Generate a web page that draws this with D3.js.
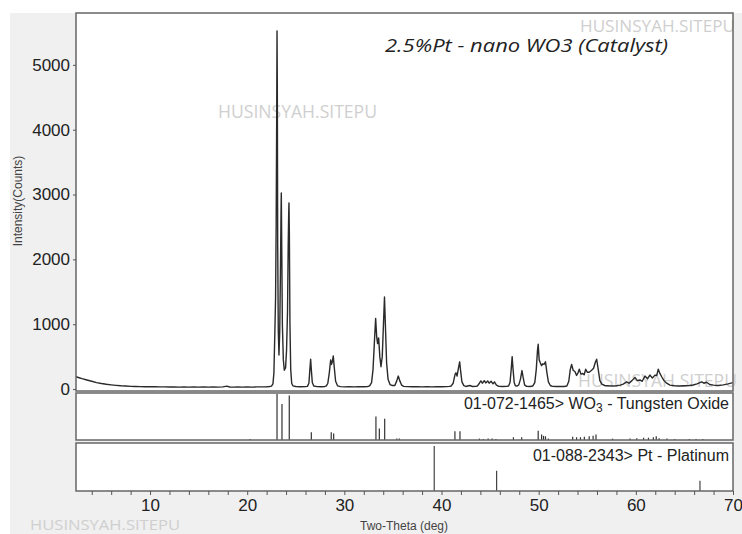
<!DOCTYPE html>
<head>
  <meta charset="utf-8">
  <style>
    body { margin: 0; background: #fff; }
    .num text { font: 17px "Liberation Sans", Arial, sans-serif; fill: #222; }
    .lab { font: 12px "Liberation Sans", Arial, sans-serif; fill: #444; }
    .ref { font: 16px "Liberation Sans", Arial, sans-serif; fill: #222; }
    .wm { font-family: "Open Sans", sans-serif; fill: #cfcfcf; }
  </style>
</head>
<body>
  <svg width="742" height="534"></svg>
  <script src="https://d3js.org/d3.v7.min.js"></script>
  <script>

  // measured scan: [two-theta (deg), intensity (counts)]
  var scan = [
    [2.38,190],[2.7,175],[3.0,160],[3.5,140],[4.0,120],[4.5,100],[5.0,85],[5.5,74],[6.0,65],[6.5,57],
    [7.0,50],[7.5,46],[8.0,42],[8.5,40],[9.0,38],[9.5,36],[10.0,35],[10.5,37],[11.0,33],[11.5,34],
    [12.0,31],[12.5,33],[13.0,30],[13.5,32],[14.0,29],[14.5,31],[15.0,30],[15.5,32],[16.0,29],[16.5,31],
    [17.0,30],[17.5,33],[17.9,45],[18.2,32],[18.6,30],[19.0,31],[19.5,29],[20.0,32],[20.5,30],[21.0,33],
    [21.5,34],[22.0,36],[22.3,40],[22.5,45],[22.65,80],[22.75,250],[22.85,900],[22.92,1400],[22.98,2500],
    [23.03,4000],[23.07,5525],[23.10,4700],[23.14,2200],[23.2,900],[23.27,525],[23.35,900],[23.42,1800],
    [23.48,2700],[23.51,3025],[23.55,2300],[23.62,1000],[23.72,450],[23.82,290],[23.95,330],[24.05,600],
    [24.15,1200],[24.22,2200],[24.27,2700],[24.30,2870],[24.34,2400],[24.40,1000],[24.48,300],[24.58,90],
    [24.7,50],[25.0,40],[25.5,36],[26.0,38],[26.2,42],[26.35,90],[26.45,300],[26.53,460],[26.6,300],
    [26.7,100],[26.85,48],[27.2,38],[27.6,35],[28.0,40],[28.15,50],[28.3,90],[28.45,250],[28.59,450],
    [28.68,380],[28.76,420],[28.86,510],[28.95,350],[29.1,120],[29.3,50],[29.6,38],[30.0,34],[30.5,36],
    [31.0,33],[31.5,35],[32.0,36],[32.4,40],[32.6,48],[32.8,100],[32.95,300],[33.1,750],[33.22,1090],
    [33.33,800],[33.42,700],[33.53,790],[33.65,500],[33.77,345],[33.9,500],[34.0,900],[34.13,1420],
    [34.22,1000],[34.35,400],[34.5,150],[34.7,70],[34.9,55],[35.2,55],[35.4,130],[35.55,200],[35.7,130],
    [35.9,60],[36.1,42],[36.5,38],[37.0,35],[37.5,37],[38.0,34],[38.5,36],[39.0,34],[39.5,37],[40.0,35],
    [40.5,38],[40.8,42],[41.0,48],[41.2,90],[41.4,230],[41.49,250],[41.6,200],[41.75,330],[41.87,420],
    [41.95,300],[42.1,110],[42.3,52],[42.5,40],[42.9,55],[43.2,40],[43.5,42],[43.7,48],[43.9,90],
    [44.05,125],[44.2,90],[44.4,130],[44.55,95],[44.75,125],[44.9,90],[45.1,120],[45.3,80],[45.45,110],
    [45.65,60],[45.9,42],[46.3,40],[46.7,42],[46.9,48],[47.05,100],[47.17,300],[47.27,500],[47.35,330],
    [47.48,100],[47.6,52],[47.8,48],[47.95,65],[48.12,150],[48.28,285],[48.4,180],[48.55,65],[48.75,42],
    [49.1,40],[49.4,48],[49.6,100],[49.75,300],[49.88,600],[49.95,690],[50.05,450],[50.18,400],[50.3,360],
    [50.42,390],[50.55,380],[50.7,420],[50.85,250],[51.0,110],[51.2,55],[51.4,42],[51.8,40],[52.2,42],
    [52.6,40],[52.9,48],[53.1,120],[53.25,300],[53.39,380],[53.55,290],[53.73,270],[53.9,210],[54.05,250],
    [54.18,305],[54.35,230],[54.53,240],[54.68,220],[54.84,305],[55.0,260],[55.2,260],[55.45,290],
    [55.65,320],[55.85,420],[55.97,460],[56.1,330],[56.3,130],[56.5,75],[56.8,55],[57.2,50],[57.6,48],
    [58.0,52],[58.4,60],[58.7,75],[59.05,110],[59.3,90],[59.6,130],[59.91,180],[60.15,130],[60.42,140],
    [60.65,120],[60.94,200],[61.2,160],[61.45,215],[61.7,170],[61.97,215],[62.15,210],[62.31,305],
    [62.45,250],[62.66,190],[62.9,130],[63.17,90],[63.51,60],[64.0,50],[64.5,48],[65.0,52],[65.5,55],
    [65.9,62],[66.3,80],[66.77,110],[67.0,90],[67.28,105],[67.6,70],[68.0,60],[68.5,55],[69.0,65],
    [69.5,80],[70.0,100]
  ];

  // reference card 01-072-1465 WO3: position (deg), relative intensity (%)
  var wo3Pos = [20.3,23.07,23.58,24.33,26.6,28.65,28.9,33.25,33.6,34.15,35.4,35.66,41.38,41.9,43.9,44.3,
    44.8,45.2,45.6,47.4,48.25,49.95,50.3,50.5,50.7,51.0,53.5,53.9,54.3,54.7,55.2,55.6,55.9,57.6,59.4,
    60.1,60.8,61.3,61.8,62.1,62.4,63.2,64.0,65.5,66.2,66.9];
  var wo3Rel = [2,100,78,97,17,17,14,51,25,46,3,3,19,19,3,2,
    3,3,2,6,6,20,12,9,8,3,7,6,6,7,8,9,12,3,3,
    4,5,5,6,8,4,3,2,2,2,2];

  // reference card 01-088-2343 Pt
  var ptPos = [39.25, 45.67, 66.6];
  var ptRel = [100, 45, 23];

  var yTicks = [0, 1000, 2000, 3000, 4000, 5000];
  var xMinor = d3.range(4, 71, 2);

  var svg = d3.select("svg");

  var left = 76, right = 733;
  var main = {top: 13, bottom: 391},
      card1 = {top: 393, bottom: 440},
      card2 = {top: 443, bottom: 491};

  var x = d3.scaleLinear().domain([2.38, 70]).range([left, right]);
  var y = d3.scaleLinear().domain([-30, 5800]).range([main.bottom, main.top]);
  var y1 = d3.scaleLinear().domain([0, 100]).range([card1.bottom, card1.top + 1]);
  var y2 = d3.scaleLinear().domain([0, 100]).range([card2.bottom, card2.top + 3]);

  // grey page background
  svg.append("rect").attr("x", 10).attr("y", 13).attr("width", 732).attr("height", 521)
    .attr("fill", "#f0f0f0");

  [main, card1, card2].forEach(function(p) {
    svg.append("rect")
      .attr("x", left).attr("y", p.top)
      .attr("width", right - left).attr("height", p.bottom - p.top)
      .attr("fill", "#fff");
  });

  // watermarks
  function wm(tx, ty, size, len) {
    svg.append("text").attr("class", "wm")
      .attr("x", tx).attr("y", ty)
      .attr("font-size", size)
      .attr("textLength", len).attr("lengthAdjust", "spacingAndGlyphs")
      .text("HUSINSYAH.SITEPU");
  }
  wm(218, 118, 18, 159);
  wm(580, 32, 17, 155);
  wm(578, 387, 18, 159);

  svg.append("clipPath").attr("id", "clip")
    .append("rect").attr("x", left).attr("y", main.top)
    .attr("width", right - left).attr("height", main.bottom - main.top);

  var line = d3.line()
    .x(function(d) { return x(d[0]); })
    .y(function(d) { return y(d[1]); });

  svg.append("path")
    .datum(scan)
    .attr("clip-path", "url(#clip)")
    .attr("d", line)
    .attr("fill", "none")
    .attr("stroke", "#2a2a2a")
    .attr("stroke-width", 1.4)
    .attr("stroke-linejoin", "round");

  // stick patterns
  svg.append("g").selectAll("line")
    .data(wo3Pos)
    .enter().append("line")
      .attr("x1", function(d) { return x(d); })
      .attr("x2", function(d) { return x(d); })
      .attr("y1", y1(0))
      .attr("y2", function(d, i) { return y1(wo3Rel[i]); })
      .attr("stroke", "#333")
      .attr("stroke-width", 1.2);

  svg.append("g").selectAll("line")
    .data(ptPos)
    .enter().append("line")
      .attr("x1", function(d) { return x(d); })
      .attr("x2", function(d) { return x(d); })
      .attr("y1", y2(0))
      .attr("y2", function(d, i) { return y2(ptRel[i]); })
      .attr("stroke", "#444")
      .attr("stroke-width", 1.2);

  // frames
  [main, card1, card2].forEach(function(p) {
    svg.append("rect")
      .attr("x", left).attr("y", p.top)
      .attr("width", right - left).attr("height", p.bottom - p.top)
      .attr("fill", "none")
      .attr("stroke", "#666")
      .attr("stroke-width", 1.5);
  });

  var wo3Label = svg.append("text").attr("class", "ref")
    .attr("x", 729).attr("y", 409).attr("text-anchor", "end");
  wo3Label.append("tspan").text("01-072-1465> WO");
  wo3Label.append("tspan").attr("font-size", 12).attr("dy", 3).text("3");
  wo3Label.append("tspan").attr("dy", -3).text(" - Tungsten Oxide");

  svg.append("text").attr("class", "ref")
    .attr("x", 729).attr("y", 461).attr("text-anchor", "end")
    .text("01-088-2343> Pt - Platinum");

  // axes
  var yAxis = svg.append("g").attr("class", "num")
    .attr("transform", "translate(" + left + ",0)")
    .call(d3.axisLeft(y).tickValues(yTicks).tickSize(3).tickPadding(3)
      .tickFormat(d3.format("d")));

  var xAxis = svg.append("g").attr("class", "num")
    .attr("transform", "translate(0," + card2.bottom + ")")
    .call(d3.axisBottom(x).tickValues(xMinor).tickSize(4).tickPadding(4)
      .tickFormat(function(d) { return d % 10 === 0 ? d : ""; }));

  [yAxis, xAxis].forEach(function(a) {
    a.select(".domain").remove();
    a.selectAll(".tick line").attr("stroke", "#555");
  });

  svg.append("text").attr("class", "lab")
    .attr("transform", "translate(22,201) rotate(-90)")
    .attr("text-anchor", "middle")
    .text("Intensity(Counts)");

  svg.append("text").attr("class", "lab")
    .attr("x", 404).attr("y", 530)
    .attr("text-anchor", "middle")
    .text("Two-Theta (deg)");

  svg.append("text")
    .attr("x", 385).attr("y", 52)
    .attr("font-family", "'Open Sans', sans-serif")
    .attr("font-style", "italic")
    .attr("font-size", 19)
    .attr("fill", "#222")
    .attr("textLength", 283).attr("lengthAdjust", "spacingAndGlyphs")
    .text("2.5%Pt - nano WO3 (Catalyst)");

  wm(30, 530, 14, 150);

  </script>
</body>
</html>
